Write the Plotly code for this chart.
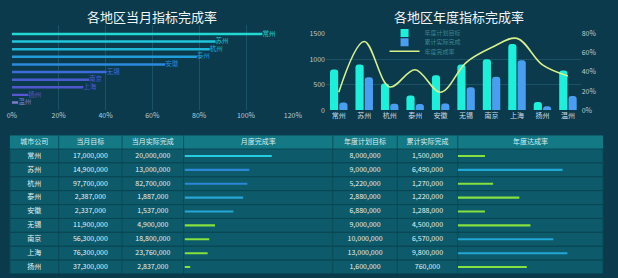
import plotly.graph_objects as go

# ---------------- data ----------------
cities = ["常州", "苏州", "杭州", "泰州", "安徽", "无锡", "南京", "上海", "扬州", "温州"]
monthly_rate_chart = [107, 87, 84.5, 79, 65.5, 40.5, 33, 30.5, 7, 2.7]
month_target = [17000000, 14900000, 97700000, 2387000, 2337000, 11900000, 56300000, 76300000, 37300000, 9000000]
month_actual = [20000000, 13000000, 82700000, 1887000, 1537000, 4900000, 18800000, 23760000, 2837000, 250000]
year_plan = [8000000, 9000000, 5220000, 2880000, 6880000, 9000000, 10000000, 13000000, 1600000, 7800000]
year_actual = [1500000, 6490000, 1270000, 1220000, 1288000, 4500000, 6570000, 9800000, 760000, 2800000]
headers = ["城市公司", "当月目标", "当月实际完成", "月度完成率", "年度计划目标", "累计实际完成", "年度达成率"]
series_names = ["年度计划目标", "累计实际完成", "年度完成率"]
left_ticks = [0, 20, 40, 60, 80, 100, 120]
right_pct_ticks = [0, 20, 40, 60, 80]
bar_left_ticks = [0, 500, 1000, 1500]

# derived
plan_wan = [v / 10000 for v in year_plan]
actual_wan = [v / 10000 for v in year_actual]
year_rate = [a / p * 100 for a, p in zip(year_actual, year_plan)]
month_rate = [a / t * 100 for a, t in zip(month_actual, month_target)]

# ---------------- layout helpers ----------------
W, H = 618, 278
def fx(px): return px / W
def fy(px): return 1 - px / H

FONT = "Noto Sans CJK SC, Noto Sans, sans-serif"
GRID = "rgba(70,140,160,0.30)"
TICK = "#b9ccd4"
C_PLAN = "#1cf0da"
C_ACT = "#4a9ef0"
C_LINE = "#d6f08c"

bar_colors = ["#22d6d2", "#22c6dc", "#1fb6d8", "#229ddc", "#2a8ade",
              "#3d6cd8", "#4a5cd0", "#5057cc", "#5a55d0", "#7d7dc8"]

fig = go.Figure()

# ---------- left chart ----------
fig.add_trace(go.Bar(
    x=monthly_rate_chart, y=cities, orientation="h", width=0.32,
    marker=dict(color=bar_colors, line=dict(width=0)),
    xaxis="x", yaxis="y", showlegend=False, hoverinfo="skip"))
fig.add_trace(go.Scatter(
    x=monthly_rate_chart, y=cities, mode="text", text=cities,
    textposition="middle right", textfont=dict(size=6.5, color=bar_colors),
    xaxis="x", yaxis="y", showlegend=False, hoverinfo="skip", cliponaxis=False))

# ---------- right chart ----------
fig.add_trace(go.Bar(
    x=cities, y=plan_wan, name=series_names[0], showlegend=False,
    marker=dict(color=C_PLAN, cornerradius=3, line=dict(width=0)),
    xaxis="x2", yaxis="y2"))
fig.add_trace(go.Bar(
    x=cities, y=actual_wan, name=series_names[1], showlegend=False,
    marker=dict(color=C_ACT, cornerradius=3, line=dict(width=0)),
    xaxis="x2", yaxis="y2"))
fig.add_trace(go.Scatter(
    x=cities, y=year_rate, name=series_names[2], mode="lines", legend="legend3",
    line=dict(color=C_LINE, width=1.6, shape="spline", smoothing=1.0),
    xaxis="x2", yaxis="y3"))
# compact legend entries for the bar series
for nm, col, lg in [(series_names[0], C_PLAN, "legend"), (series_names[1], C_ACT, "legend2")]:
    fig.add_trace(go.Scatter(
        x=[None], y=[None], name=nm, mode="markers", legend=lg,
        marker=dict(symbol="square", size=8, color=col),
        xaxis="x2", yaxis="y2", hoverinfo="skip"))

# ---------- table ----------
col_bounds = [5, 55, 120, 183, 336, 402, 464, 613]
col_centers = [(a + b) / 2 for a, b in zip(col_bounds[:-1], col_bounds[1:])]
row_px = 14.4
table_top = 134
y_bottom = -1.5 + (H - table_top) / row_px
n_vis = min(len(cities), int(y_bottom - 0.5) + 1)   # rows whose text fits in view
rows = list(range(len(cities)))
vis = rows[:n_vis]

def fmt(v):
    return f"{v:,}"

shapes = []
shapes.append(dict(type="rect", xref="paper", yref="y4", x0=fx(col_bounds[0]), x1=fx(col_bounds[-1]),
                   y0=-1.5, y1=-0.5, fillcolor="#137985", line=dict(width=0), layer="below"))
for r in rows:
    shapes.append(dict(type="rect", xref="paper", yref="y4", x0=fx(col_bounds[0]), x1=fx(col_bounds[-1]),
                       y0=r - 0.5, y1=r + 0.5, fillcolor="#0d5b6a",
                       line=dict(width=1, color="#0a4553"), layer="below"))
for b in col_bounds[1:-1]:
    shapes.append(dict(type="line", xref="paper", yref="y4", x0=fx(b), x1=fx(b),
                       y0=-1.5, y1=len(cities) - 0.5, line=dict(width=1, color="rgba(10,70,84,0.8)"),
                       layer="below"))

fig.add_trace(go.Scatter(
    x=col_centers, y=[-1] * len(headers), mode="text", text=headers,
    textfont=dict(size=7, color="#d9eef0"), xaxis="x3", yaxis="y4",
    showlegend=False, hoverinfo="skip"))

text_cols = [
    (0, cities),
    (1, [fmt(v) for v in month_target]),
    (2, [fmt(v) for v in month_actual]),
    (4, [fmt(v) for v in year_plan]),
    (5, [fmt(v) for v in year_actual]),
]
for ci, vals in text_cols:
    fig.add_trace(go.Scatter(
        x=[col_centers[ci]] * n_vis, y=vis, mode="text", text=vals[:n_vis],
        textfont=dict(size=7, color="#e6f2f4"), xaxis="x3", yaxis="y4",
        showlegend=False, hoverinfo="skip"))

def month_color(v):
    if v >= 100:
        return "#26cde0"
    if v >= 80:
        return "#2e86d6"
    if v >= 50:
        return "#27a6d4"
    return "#86e040"

def year_color(v):
    return "#22a6d6" if v >= 60 else "#86e040"

fig.add_trace(go.Bar(
    x=month_rate, y=rows, orientation="h", width=0.15,
    marker=dict(color=[month_color(v) for v in month_rate], line=dict(width=0)),
    xaxis="x4", yaxis="y4", showlegend=False, hoverinfo="skip"))
fig.add_trace(go.Bar(
    x=year_rate, y=rows, orientation="h", width=0.15,
    marker=dict(color=[year_color(v) for v in year_rate], line=dict(width=0)),
    xaxis="x5", yaxis="y4", showlegend=False, hoverinfo="skip"))

leg_common = dict(xanchor="left", yanchor="middle", orientation="v",
                  bgcolor="rgba(0,0,0,0)", font=dict(size=6, color="#3a8791"),
                  itemwidth=30)

fig.update_layout(
    width=W, height=H, margin=dict(l=0, r=0, t=0, b=0),
    paper_bgcolor="#0b3a4c", plot_bgcolor="rgba(0,0,0,0)",
    font=dict(family=FONT, size=7, color=TICK),
    barmode="group", bargap=0.27, bargroupgap=0.12,
    xaxis=dict(domain=[fx(7), fx(295)], range=[0, 120], tickmode="array", tickvals=left_ticks,
               ticktext=[f"{v}%" for v in left_ticks],
               showgrid=True, gridcolor=GRID, gridwidth=1, zeroline=False, showline=False,
               tickfont=dict(size=7, color=TICK), anchor="y", fixedrange=True),
    yaxis=dict(domain=[fy(108), fy(20)], type="category", categoryorder="array", categoryarray=cities,
               range=[9.999, -1.14], showticklabels=False, showgrid=False, zeroline=False,
               anchor="x"),
    xaxis2=dict(domain=[fx(329), fx(590)], type="category", showgrid=False, zeroline=False,
                showline=False, tickfont=dict(size=7, color="#c8dde6"), anchor="y2", ticks=""),
    yaxis2=dict(domain=[fy(108), fy(29)], range=[0, 1500], tickmode="array", tickvals=bar_left_ticks,
                showgrid=True, gridcolor=GRID, zeroline=False, tickfont=dict(size=7, color=TICK),
                anchor="x2"),
    yaxis3=dict(overlaying="y2", side="right", range=[0, 80], tickmode="array", tickvals=right_pct_ticks,
                ticktext=[f"{v}%" for v in right_pct_ticks], showgrid=False, zeroline=False,
                tickfont=dict(size=7, color=TICK), anchor="x2"),
    xaxis3=dict(domain=[0, 1], range=[0, W], visible=False, anchor="y4"),
    yaxis4=dict(domain=[0, fy(table_top)], range=[y_bottom, -1.5], visible=False, anchor="x3"),
    xaxis4=dict(domain=[fx(col_bounds[3] + 1), fx(col_bounds[4])], range=[0, 200], visible=False, anchor="y4"),
    xaxis5=dict(domain=[fx(col_bounds[6]), fx(col_bounds[7])], range=[0, 100], visible=False, anchor="y4"),
    legend=dict(x=fx(389), y=fy(28), **leg_common),
    legend2=dict(x=fx(389), y=fy(37.5), **leg_common),
    legend3=dict(x=fx(389), y=fy(47), **leg_common),
    shapes=shapes,
    annotations=[
        dict(text="各地区当月指标完成率", x=fx(151), y=fy(11), xref="paper", yref="paper",
             xanchor="center", yanchor="middle",
             showarrow=False, font=dict(size=13, color="#eef6f8", family=FONT)),
        dict(text="各地区年度指标完成率", x=fx(465), y=fy(11), xref="paper", yref="paper",
             xanchor="center", yanchor="middle",
             showarrow=False, font=dict(size=13, color="#eef6f8", family=FONT)),
    ],
)

fig.write_html("out.html")
